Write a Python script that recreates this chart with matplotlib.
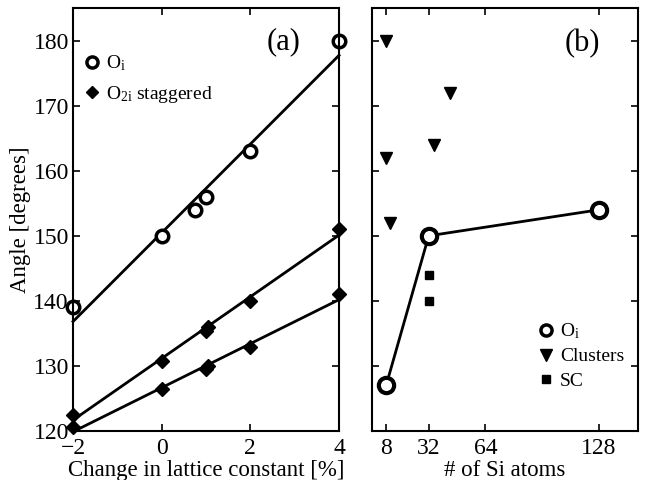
import numpy as np
import matplotlib
matplotlib.use('Agg')
import matplotlib.pyplot as plt
from matplotlib.lines import Line2D

plt.rcParams['font.family'] = ['Liberation Serif', 'DejaVu Serif']
plt.rcParams['mathtext.fontset'] = 'custom'
plt.rcParams['mathtext.rm'] = 'Liberation Serif'
plt.rcParams['mathtext.it'] = 'Liberation Serif:italic'

# panel (a): angle vs change in lattice constant
oi_x = [-2, 0, 0.75, 1, 2, 4]
oi_y = [139, 150, 154, 156, 163, 180]
o2i_up_x = [-2, 0, 1, 1.05, 2, 4]
o2i_up_y = [122.5, 130.7, 135.4, 136.0, 140.0, 151.0]
o2i_lo_x = [-2, 0, 1, 1.05, 2, 4]
o2i_lo_y = [120.6, 126.4, 129.5, 130.0, 132.9, 141.0]

# panel (b): angle vs number of Si atoms
b_oi_x = [8, 32, 128]
b_oi_y = [127, 150, 154]
clu_x = [8, 8, 10, 35, 44]
clu_y = [180, 162, 152, 164, 172]
sc_x = [32, 32]
sc_y = [144, 140]

fig = plt.figure(figsize=(6.48, 4.8), dpi=100)
ax1 = fig.add_axes([0.1127, 0.1021, 0.4105, 0.881])
ax2 = fig.add_axes([0.574, 0.1021, 0.4105, 0.881])

lw = 2.0
xx = np.array([-2, 4])
for xs, ys in [(oi_x, oi_y), (o2i_up_x, o2i_up_y), (o2i_lo_x, o2i_lo_y)]:
    p = np.polyfit(xs, ys, 1)
    ax1.plot(xx, np.polyval(p, xx), 'k-', lw=lw, clip_on=False)

ax1.plot(oi_x, oi_y, 'o', mfc='white', mec='k', mew=2.5, ms=9, clip_on=False)
ax1.plot(o2i_up_x, o2i_up_y, 'D', color='k', ms=7, clip_on=False)
ax1.plot(o2i_lo_x, o2i_lo_y, 'D', color='k', ms=7, clip_on=False)

ax1.set_xlim(-2, 4)
ax1.set_ylim(120, 185)
ax1.set_xticks([-2, 0, 2, 4])
ax1.set_xticklabels(['\u22122', '0', '2', '4'])
ax1.set_yticks([120, 130, 140, 150, 160, 170, 180])
ax1.set_xlabel('Change in lattice constant [%]', fontsize=16.5, labelpad=1)
ax1.set_ylabel('Angle [degrees]', fontsize=16.5, labelpad=2)
ax1.text(0.79, 0.92, '(a)', transform=ax1.transAxes, fontsize=22,
         ha='center', va='center')

h_oi = Line2D([], [], marker='o', mfc='white', mec='k', mew=2.5, ms=8,
              linestyle='none')
h_dia = Line2D([], [], marker='D', color='k', ms=6.5, linestyle='none')
ax1.legend([h_oi, h_dia], [r'O$_\mathregular{i}$', r'O$_\mathregular{2i}$ staggered'],
           loc='upper left', bbox_to_anchor=(-0.022, 0.925), frameon=False,
           fontsize=14, handletextpad=0.1, labelspacing=0.55, borderpad=0.2,
           handlelength=1.2)

ax2.plot(b_oi_x, b_oi_y, 'k-', lw=lw)
ax2.plot(b_oi_x, b_oi_y, 'o', mfc='white', mec='k', mew=3, ms=11,
         linestyle='none')
ax2.plot(clu_x, clu_y, 'v', color='k', ms=8, linestyle='none')
ax2.plot(sc_x, sc_y, 's', color='k', ms=6, linestyle='none')
ax2.set_xlim(0, 150)
ax2.set_ylim(120, 185)
ax2.set_xticks([8, 32, 64, 128])
ax2.set_yticks([120, 130, 140, 150, 160, 170, 180])
ax2.set_yticklabels([])
ax2.set_xlabel('# of Si atoms', fontsize=16.5, labelpad=1)
ax2.text(0.79, 0.915, '(b)', transform=ax2.transAxes, fontsize=22,
         ha='center', va='center')

h_oi2 = Line2D([], [], marker='o', mfc='white', mec='k', mew=2.5, ms=8,
               linestyle='none')
h_clu = Line2D([], [], marker='v', color='k', ms=9, linestyle='none')
h_sc = Line2D([], [], marker='s', color='k', ms=6, linestyle='none')
ax2.legend([h_oi2, h_clu, h_sc], [r'O$_\mathregular{i}$', 'Clusters', 'SC'],
           loc='lower right', bbox_to_anchor=(1.0, 0.065), frameon=False,
           fontsize=14, handletextpad=0.1, labelspacing=0.35, borderpad=0.2,
           handlelength=1.2)

for ax in (ax1, ax2):
    ax.tick_params(direction='in', top=True, right=True, labelsize=17,
                   length=5, width=1.2)
    ax.tick_params(axis='x', pad=5)
    ax.tick_params(axis='y', pad=3)
    for s in ax.spines.values():
        s.set_linewidth(1.5)

fig.savefig('out.png', dpi=100)
